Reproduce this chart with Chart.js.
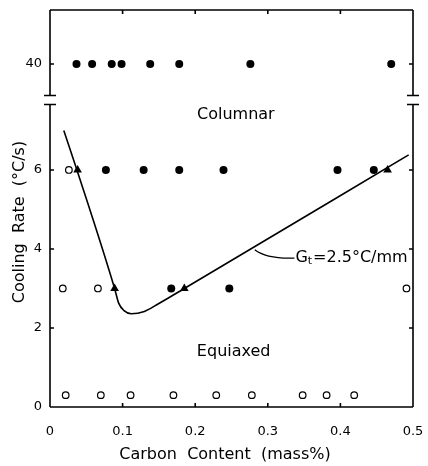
<!DOCTYPE html>
<html>
<head>
<meta charset="utf-8">
<script src="https://cdn.jsdelivr.net/npm/chart.js@4"></script>
<style>
  body { margin: 0; background: #fff; }
  canvas { display: block; }
</style>
</head>
<body>
<canvas id="grafico" width="428" height="466"></canvas>
<script>
// eixos
const xTicks = [0, 0.1, 0.2, 0.3, 0.4, 0.5];
const yTicksLower = [0, 2, 4, 6];
const yTicksUpper = [40];

// círculos cheios (columnar) na faixa de 40 °C/s
const col40X = [0.0365, 0.058, 0.085, 0.0986, 0.138, 0.178, 0.276, 0.47];
const col40Y = [40, 40, 40, 40, 40, 40, 40, 40];
// círculos cheios (columnar) na parte de baixo
const colX = [0.077, 0.129, 0.178, 0.239, 0.396, 0.446, 0.167, 0.247];
const colY = [6, 6, 6, 6, 6, 6, 3, 3];
// círculos vazios (equiaxed)
const eqX = [0.026, 0.0176, 0.066, 0.491, 0.0216, 0.070, 0.111, 0.170, 0.229, 0.278, 0.348, 0.381, 0.419];
const eqY = [6, 3, 3, 3, 0.3, 0.3, 0.3, 0.3, 0.3, 0.3, 0.3, 0.3, 0.3];
// triângulos (misto)
const mixX = [0.038, 0.089, 0.185, 0.465];
const mixY = [6, 3, 3, 6];
// curva Gt = 2.5 °C/mm
const curveX = [0.019, 0.038, 0.089, 0.0946, 0.102, 0.112, 0.13, 0.15, 0.185, 0.494];
const curveY = [7.0, 5.95, 3.0, 2.63, 2.44, 2.36, 2.42, 2.62, 3.0, 6.38];

const pts = (xs, ys) => xs.map((x, i) => ({ x: x, y: ys[i] }));

Chart.defaults.font.family = 'DejaVu Sans';
Chart.defaults.color = '#000';

// moldura com quebra no eixo, ticks para dentro e textos
const moldura = {
  id: 'moldura',
  afterDraw(chart) {
    const { ctx, chartArea: a, scales } = chart;
    const sx = scales.x, yl = scales.y, yu = scales.yTop;
    const brk = yl.top;
    ctx.save();
    ctx.strokeStyle = '#000';
    ctx.lineWidth = 1.6;
    ctx.beginPath();
    ctx.moveTo(a.left, a.top); ctx.lineTo(a.right, a.top);
    ctx.moveTo(a.left, a.bottom); ctx.lineTo(a.right, a.bottom);
    [a.left, a.right].forEach(px => {
      ctx.moveTo(px, a.top); ctx.lineTo(px, brk - 4.5);
      ctx.moveTo(px, brk + 4.5); ctx.lineTo(px, a.bottom);
      ctx.moveTo(px - 6, brk - 4.5); ctx.lineTo(px + 6, brk - 4.5);
      ctx.moveTo(px - 6, brk + 4.5); ctx.lineTo(px + 6, brk + 4.5);
    });
    xTicks.slice(1, -1).forEach(v => {
      const px = sx.getPixelForValue(v);
      ctx.moveTo(px, a.bottom); ctx.lineTo(px, a.bottom - 4);
      ctx.moveTo(px, a.top); ctx.lineTo(px, a.top + 4);
    });
    const yTick = py => {
      ctx.moveTo(a.left, py); ctx.lineTo(a.left + 4, py);
      ctx.moveTo(a.right, py); ctx.lineTo(a.right - 4, py);
    };
    yTicksLower.slice(1).forEach(v => yTick(yl.getPixelForValue(v)));
    yTicksUpper.forEach(v => yTick(yu.getPixelForValue(v)));
    ctx.stroke();

    // textos das regiões
    ctx.fillStyle = '#000';
    ctx.textAlign = 'center';
    ctx.textBaseline = 'middle';
    ctx.font = '16px "DejaVu Sans"';
    ctx.fillText('Columnar', sx.getPixelForValue(0.256), yl.getPixelForValue(7.39));
    ctx.fillText('Equiaxed', sx.getPixelForValue(0.253), yl.getPixelForValue(1.39));

    // rótulo da curva com seta
    const lx = sx.getPixelForValue(0.338), ly = yl.getPixelForValue(3.77);
    ctx.textAlign = 'left';
    ctx.font = '16px "DejaVu Sans"';
    ctx.fillText('G', lx, ly);
    let w = ctx.measureText('G').width;
    ctx.font = '11px "DejaVu Sans"';
    ctx.fillText('t', lx + w, ly + 3);
    w += ctx.measureText('t').width + 1;
    ctx.font = '16px "DejaVu Sans"';
    ctx.fillText('=2.5°C/mm', lx + w, ly);
    const ex = sx.getPixelForValue(0.282), ey = yl.getPixelForValue(3.98);
    ctx.lineWidth = 1.3;
    ctx.beginPath();
    ctx.moveTo(lx - 1, ly);
    ctx.quadraticCurveTo(ex + 12, ly + 1, ex, ey);
    ctx.stroke();

    // títulos dos eixos
    ctx.textAlign = 'center';
    ctx.font = '16px "DejaVu Sans"';
    ctx.fillText('Carbon  Content  (mass%)', 225, 455);
    ctx.translate(20, 222);
    ctx.rotate(-Math.PI / 2);
    ctx.fillText('Cooling  Rate  (°C/s)', 0, 0);
    ctx.restore();
  }
};

const semPaddingY = ax => { ax.width = 50; ax.paddingTop = 0; ax.paddingBottom = 0; };

const ctx = document.getElementById('grafico').getContext('2d');
new Chart(ctx, {
  type: 'scatter',
  data: {
    datasets: [
      {
        data: pts(col40X, col40Y), yAxisID: 'yTop',
        pointRadius: 4, backgroundColor: '#000', borderColor: '#000', borderWidth: 0
      },
      {
        data: pts(colX, colY), yAxisID: 'y',
        pointRadius: 4, backgroundColor: '#000', borderColor: '#000', borderWidth: 0
      },
      {
        data: pts(eqX, eqY), yAxisID: 'y',
        pointRadius: 3.3, backgroundColor: '#fff', borderColor: '#000', borderWidth: 1.2
      },
      {
        data: pts(mixX, mixY), yAxisID: 'y', pointStyle: 'triangle',
        pointRadius: 5, backgroundColor: '#000', borderColor: '#000', borderWidth: 0
      },
      {
        type: 'line', data: pts(curveX, curveY), yAxisID: 'y',
        showLine: true, pointRadius: 0, borderColor: '#000', borderWidth: 1.6,
        cubicInterpolationMode: 'monotone', fill: false
      }
    ]
  },
  options: {
    responsive: false,
    animation: false,
    layout: { padding: { top: 10, right: 15, left: 0, bottom: 0 } },
    plugins: { legend: { display: false }, tooltip: { enabled: false } },
    scales: {
      x: {
        type: 'linear', min: 0, max: 0.5,
        grid: { display: false, drawTicks: false }, border: { display: false },
        afterBuildTicks: ax => { ax.ticks = xTicks.map(v => ({ value: v })); },
        afterFit: ax => { ax.height = 59; ax.paddingLeft = 0; ax.paddingRight = 0; },
        ticks: {
          padding: 17, font: { size: 13 },
          callback: v => v === 0 ? '0' : v.toFixed(1)
        }
      },
      y: {
        type: 'linear', position: 'left', stack: 'cr', stackWeight: 307,
        min: 0, max: 7.77,
        grid: { display: false, drawTicks: false }, border: { display: false },
        afterBuildTicks: ax => { ax.ticks = yTicksLower.map(v => ({ value: v })); },
        afterFit: semPaddingY,
        ticks: { padding: 8, font: { size: 13 } }
      },
      yTop: {
        type: 'linear', position: 'left', stack: 'cr', stackWeight: 90,
        min: 38.4, max: 42.4,
        grid: { display: false, drawTicks: false }, border: { display: false },
        afterBuildTicks: ax => { ax.ticks = yTicksUpper.map(v => ({ value: v })); },
        afterFit: semPaddingY,
        ticks: { padding: 8, font: { size: 13 } }
      }
    }
  },
  plugins: [moldura]
});
</script>
</body>
</html>
